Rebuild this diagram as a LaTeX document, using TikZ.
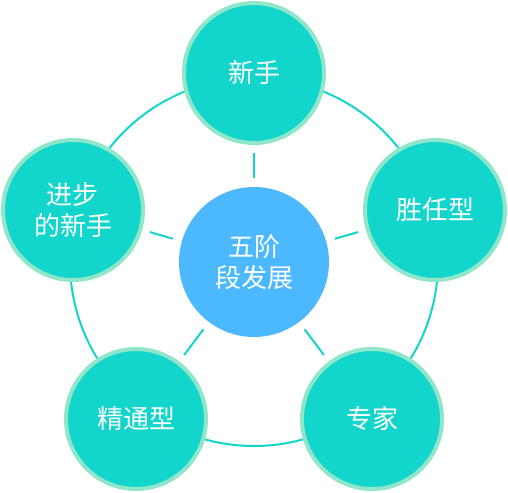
\documentclass[tikz,border=0pt]{standalone}
\usepackage{fontspec}
\newfontfamily\cjk{Noto Sans CJK SC}
\usetikzlibrary{positioning}
\definecolor{stagefill}{HTML}{12D5CC}
\definecolor{stagerim}{HTML}{8FE6C9}
\definecolor{hubfill}{HTML}{4CB8FF}

\begin{document}
\begin{tikzpicture}[
            x=1pt, y=-1pt,
            stage/.style={circle, fill=stagefill, draw=stagerim, line width=4pt,
                minimum size=140pt, inner sep=0pt, text=white, align=center,
                font=\cjk\fontsize{26}{31}\selectfont},
            hub/.style={circle, fill=hubfill, minimum size=150pt, inner sep=0pt,
                text=white, align=center, font=\cjk\fontsize{26}{31}\selectfont},
            spoke/.style={stagefill, line width=2pt, shorten <=9pt, shorten >=8pt}
        ]

            \useasboundingbox (0,0) rectangle (508,492);
            \coordinate (o) at (254,262);
            \draw[stagefill, line width=2pt] (o) circle[radius=184];

            \node[hub] (hub) at (o) {五阶\\段发展};
            \node[stage] (novice) at (254,73) {新手};
            \node[stage] (competent) at (435,210) {胜任型};
            \node[stage] (expert) at (372,419) {专家};
            \node[stage] (proficient) at (136,419) {精通型};
            \node[stage] (advanced) at (73,210) {进步\\的新手};

            \foreach \s in {novice, competent, expert, proficient, advanced}
                \draw[spoke] (hub) -- (\s);
        \end{tikzpicture}
\end{document}
